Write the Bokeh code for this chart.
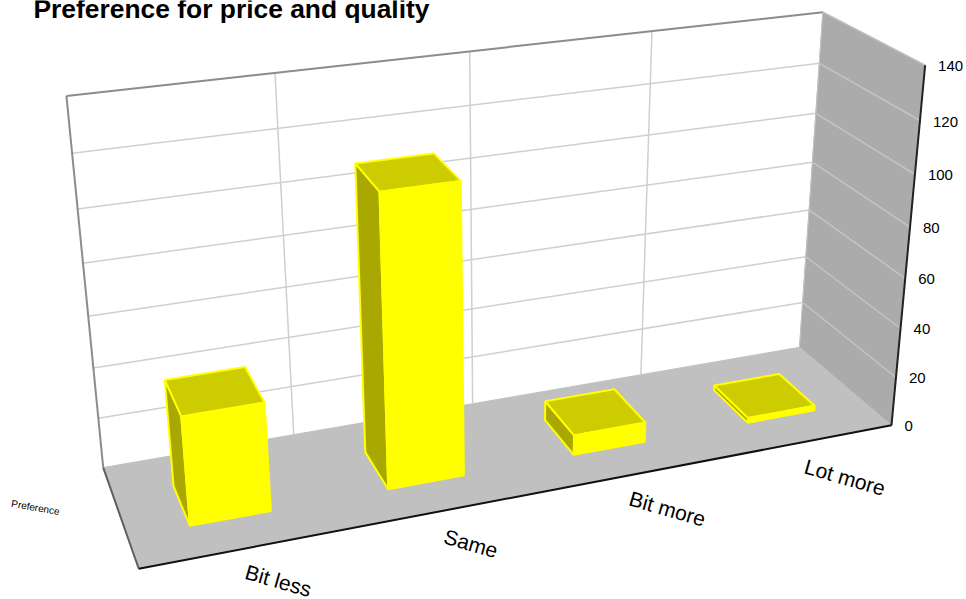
import numpy as np
from bokeh.embed import file_html
from bokeh.resources import INLINE
from bokeh.plotting import figure
from bokeh.models import Range1d
from bokeh.core.properties import value

TITLE = "Preference for price and quality"
SIDE_LABEL = "Preference"
categories = ["Bit less", "Same", "Bit more", "Lot more"]
values = [42, 112, 8, 2]
ticks = [0, 20, 40, 60, 80, 100, 120, 140]

YMAX = 140.0
N = len(categories)
# camera calibration: cube corners (category, value, depth) -> window pixels
cal = [((0, 0, 0), (102, 465)), ((N, 0, 0), (800, 348)), ((0, YMAX, 0), (66, 96)),
       ((N, YMAX, 0), (822, 12)), ((0, 0, 1), (139, 570)), ((N, 0, 1), (890, 424)),
       ((N, YMAX, 1), (925, 64))]
A = []
for (X, Y, Z), (u, v) in cal:
    Y = Y / YMAX
    A.append([X, Y, Z, 1, 0, 0, 0, 0, -u*X, -u*Y, -u*Z, -u])
    A.append([0, 0, 0, 0, X, Y, Z, 1, -v*X, -v*Y, -v*Z, -v])
A = np.array(A, float)
scale = np.array([1000, 1000, 1000, 1000, 1000, 1000, 1000, 1000, 1, 1, 1, 1.0])
P = (np.linalg.svd(A * scale)[2][-1] * scale).reshape(3, 4)


def proj(X, Y, Z):
    w = P @ np.array([X, Y / YMAX, Z, 1.0])
    return float(w[0] / w[2]), float(w[1] / w[2])


def poly(pts):
    xy = [proj(*q) for q in pts]
    return [a for a, _ in xy], [b for _, b in xy]


p = figure(width=966, height=599, output_backend="svg", toolbar_location=None,
           x_range=Range1d(0, 966), y_range=Range1d(599, 0),
           min_border=0, outline_line_color=None)
p.styles = {"position": "absolute", "left": "0px", "top": "0px"}
p.xaxis.visible = False
p.yaxis.visible = False
p.xgrid.visible = False
p.ygrid.visible = False


def face(pts, fill, line=None, lw=1.0):
    x, y = poly(pts)
    p.patch(x, y, fill_color=fill, line_color=line if line else fill, line_width=lw)


def seg(a, b, color, lw=1.5):
    x, y = poly([a, b])
    p.line(x, y, line_color=color, line_width=lw)


# walls and floor
face([(0, 0, 0), (N, 0, 0), (N, YMAX, 0), (0, YMAX, 0)], "#ffffff")
face([(N, 0, 0), (N, 0, 1), (N, YMAX, 1), (N, YMAX, 0)], "#ababab")
face([(0, 0, 0), (N, 0, 0), (N, 0, 1), (0, 0, 1)], "#c0c0c0")

for t in ticks[1:-1]:
    seg((0, t, 0), (N, t, 0), "#cfcfcf", 1.5)
    seg((N, t, 0), (N, t, 1), "#c4c4c4", 1.5)
for i in range(1, N):
    seg((i, 0, 0), (i, YMAX, 0), "#cfcfcf", 1.5)

seg((0, YMAX, 0), (N, YMAX, 0), "#8c8c8c", 2)
seg((0, 0, 0), (0, YMAX, 0), "#8c8c8c", 2)
seg((N, YMAX, 0), (N, YMAX, 1), "#bdbdbd", 1.5)
seg((N, 0, 0), (N, YMAX, 0), "#c4c4c4", 1)
seg((0, 0, 0), (0, 0, 1), "#5f5f5f", 2)
seg((0, 0, 1), (N, 0, 1), "#111111", 2)
seg((N, 0, 1), (N, YMAX, 1), "#222222", 2)

# bars
GAP = 0.30
D0, D1 = 0.31, 0.71
for i, v in enumerate(values):
    a, b = i + GAP, i + 1 - GAP
    face([(a, 0, D0), (a, 0, D1), (a, v, D1), (a, v, D0)], "#a8a800", "#ffff00", 2)
    face([(a, v, D0), (b, v, D0), (b, v, D1), (a, v, D1)], "#cccc00", "#ffff00", 2)
    face([(a, 0, D1), (b, 0, D1), (b, v, D1), (a, v, D1)], "#ffff00", "#ffff00", 2)

# value tick labels
tx, ty = zip(*[proj(N, t, 1) for t in ticks])
p.text(list(tx), list(ty), text=[str(t) for t in ticks], x_offset=13, y_offset=1,
       text_font=value("Liberation Sans"), text_font_size="15px", text_color="#000000",
       text_align="left", text_baseline="middle")

# category labels, along the front floor edge
label_dx = [34, 26, 35, 37]
label_dy = [32, 33, 34, 36]
for i, name in enumerate(categories):
    cx, cy = proj(i + 0.5, 0, 1)
    p.text([cx], [cy], text=[name], x_offset=label_dx[i], y_offset=label_dy[i], angle=-0.28,
           text_font=value("Liberation Sans"), text_font_size="21px", text_color="#000000",
           text_align="center", text_baseline="middle")

p.text([33], [8], text=[TITLE], text_font=value("Liberation Sans"), text_font_style="bold",
       text_font_size="26.4px", text_color="#000000", text_align="left", text_baseline="alphabetic")
p.text([35], [507], text=[SIDE_LABEL], angle=-0.17, text_font=value("Liberation Sans"),
       text_font_size="10px", text_color="#000000", text_align="center", text_baseline="middle")

open("out.html", "w").write(file_html(p, INLINE))
